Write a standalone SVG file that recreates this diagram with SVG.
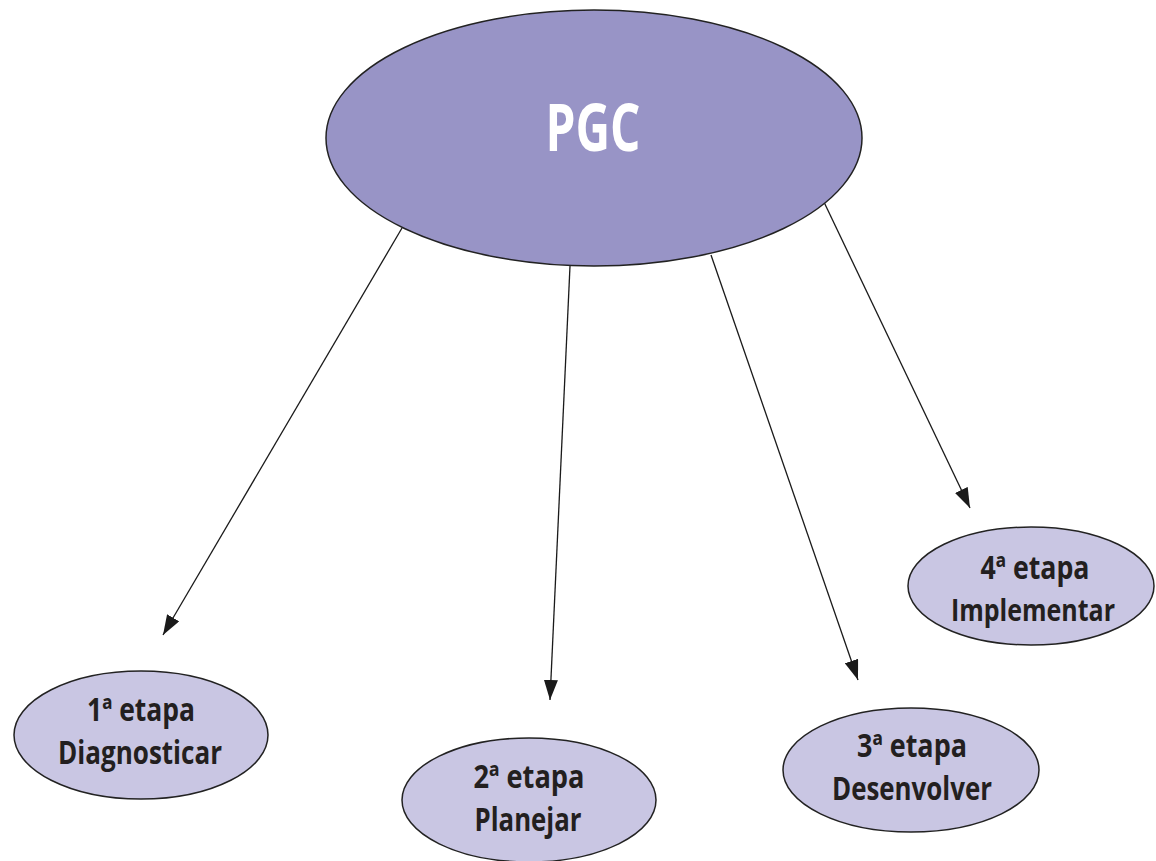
<svg xmlns="http://www.w3.org/2000/svg" width="1156" height="861" viewBox="0 0 1156 861">
<defs>
<marker id="ah" markerWidth="20" markerHeight="14" refX="20" refY="7" orient="auto" markerUnits="userSpaceOnUse">
<path d="M0,0 L20,7 L0,14 Z" fill="#1a1a1a"/>
</marker>
<style>
.main{fill:#9894C6;stroke:#222;stroke-width:1.5}
.sub{fill:#C9C6E3;stroke:#222;stroke-width:1.5}
.t{font-family:"Open Sans","Noto Sans","Liberation Sans",sans-serif;font-weight:700;text-anchor:middle}
.st{font-size:32px;fill:#231f20}
.edge{stroke:#1a1a1a;stroke-width:1.3;fill:none;marker-end:url(#ah)}
</style>
</defs>
<rect width="1156" height="861" fill="#fff"/>
<g id="connectors">
<line class="edge" x1="402" y1="228" x2="163" y2="635"/>
<line class="edge" x1="570" y1="266" x2="550" y2="700"/>
<line class="edge" x1="711" y1="255" x2="858" y2="680"/>
<line class="edge" x1="823" y1="200" x2="970" y2="508"/>
</g>
<g id="pgc">
<ellipse class="main" cx="594" cy="138" rx="268" ry="128"/>
<text class="t" x="593" y="151" font-size="67" fill="#fff" textLength="95" lengthAdjust="spacingAndGlyphs">PGC</text>
</g>
<g id="etapa1">
<ellipse class="sub" cx="141" cy="735" rx="127" ry="64"/>
<text class="t st" x="141" y="721" textLength="108" lengthAdjust="spacingAndGlyphs">1ª etapa</text>
<text class="t st" x="140" y="764" textLength="164" lengthAdjust="spacingAndGlyphs">Diagnosticar</text>
</g>
<g id="etapa2">
<ellipse class="sub" cx="529" cy="800" rx="127" ry="62"/>
<text class="t st" x="529" y="788" textLength="111" lengthAdjust="spacingAndGlyphs">2ª etapa</text>
<text class="t st" x="528" y="831" textLength="107" lengthAdjust="spacingAndGlyphs">Planejar</text>
</g>
<g id="etapa3">
<ellipse class="sub" cx="911" cy="770" rx="128" ry="62"/>
<text class="t st" x="912" y="757" textLength="110" lengthAdjust="spacingAndGlyphs">3ª etapa</text>
<text class="t st" x="912" y="800" textLength="160" lengthAdjust="spacingAndGlyphs">Desenvolver</text>
</g>
<g id="etapa4">
<ellipse class="sub" cx="1031" cy="586" rx="123" ry="59"/>
<text class="t st" x="1035" y="579" textLength="109" lengthAdjust="spacingAndGlyphs">4ª etapa</text>
<text class="t st" x="1033" y="621" font-size="30" style="font-size:30px" textLength="164" lengthAdjust="spacingAndGlyphs">Implementar</text>
</g>
</svg>
